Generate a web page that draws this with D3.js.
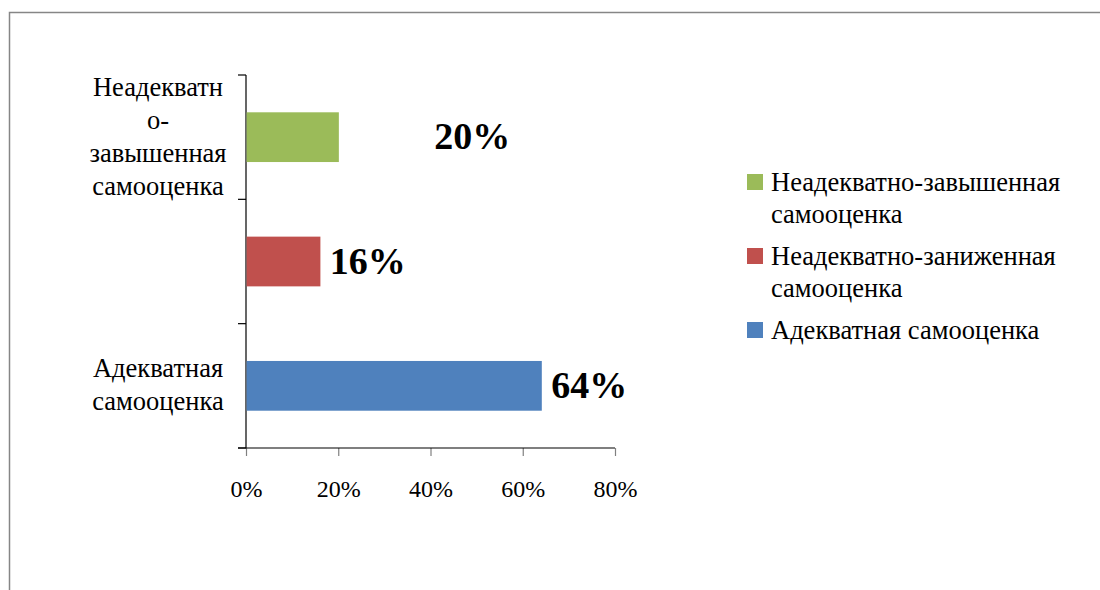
<!DOCTYPE html>
<head>
  <meta charset="utf-8">
  <script src="https://d3js.org/d3.v7.min.js"></script>
  <style>
    body { margin: 0; background: #fff; }
    text { font-family: 'Liberation Serif', 'Times New Roman', serif; fill: #000; }
    .tick-label { font-size: 24px; }
    .cat, .legend text { font-size: 26.5px; }
    .value { font-size: 38px; font-weight: bold; }
  </style>
</head>
<body>
  <svg id="chart" width="1100" height="590"></svg>
  <script>
    // top to bottom, as drawn
    var categories = ['Неадекватно-завышенная самооценка', 'Неадекватно-заниженная самооценка', 'Адекватная самооценка'];
    var categoryLines = [['Неадекватн', 'о-', 'завышенная', 'самооценка'], [], ['Адекватная', 'самооценка']];
    var values = [20, 16, 64];
    var colors = ['#9BBB59', '#C0504D', '#4F81BD'];
    var legendLines = [['Неадекватно-завышенная', 'самооценка'], ['Неадекватно-заниженная', 'самооценка'], ['Адекватная самооценка']];
    var xTicks = [0, 20, 40, 60, 80];

    var chart = d3.select('#chart');

    chart.append('rect')
      .attr('x', 9.5).attr('y', 12.5)
      .attr('width', 1200).attr('height', 700)
      .attr('fill', 'none')
      .attr('stroke', '#868686')
      .attr('stroke-width', 1.5);

    var plotLeft = 246, plotRight = 615, plotTop = 75, plotBottom = 448;

    var x = d3.scaleLinear().domain([0, 80]).range([plotLeft, plotRight]);
    var y = d3.scaleBand().domain(categories).range([plotTop, plotBottom])
      .paddingInner(0.6).paddingOuter(0.3);

    var g = chart.append('g');

    // x axis
    var xAxis = g.append('g')
      .attr('transform', 'translate(0,' + plotBottom + ')')
      .call(d3.axisBottom(x).tickValues(xTicks).tickSize(8).tickFormat((d) => d + '%'));
    xAxis.select('.domain').remove();
    xAxis.selectAll('.tick line').attr('stroke', '#808080').attr('stroke-width', 1.2);
    xAxis.selectAll('.tick text')
      .attr('class', 'tick-label')
      .attr('y', 0).attr('dy', 49);
    xAxis.attr('font-size', null).attr('font-family', null);
    g.append('line')
      .attr('x1', plotLeft - 8).attr('x2', plotRight)
      .attr('y1', plotBottom).attr('y2', plotBottom)
      .attr('stroke', '#000').attr('stroke-width', 1.2);

    // y axis, ticks at category boundaries
    var bounds = d3.range(categories.length + 1).map((i) => plotTop + i * y.step());
    g.append('line')
      .attr('x1', plotLeft).attr('x2', plotLeft)
      .attr('y1', plotTop).attr('y2', plotBottom)
      .attr('stroke', '#000').attr('stroke-width', 1.2);
    g.selectAll('.ytick').data(bounds).enter().append('line')
      .attr('class', 'ytick')
      .attr('x1', plotLeft - 8).attr('x2', plotLeft)
      .attr('y1', (d) => d).attr('y2', (d) => d)
      .attr('stroke', '#000').attr('stroke-width', 1.2);

    // bars
    g.selectAll('.bar').data(categories).enter().append('rect')
      .attr('class', 'bar')
      .attr('x', x(0) + 0.6)
      .attr('y', (d) => y(d))
      .attr('width', (d, i) => x(values[i]) - x(0))
      .attr('height', y.bandwidth())
      .attr('fill', (d, i) => colors[i]);

    // value labels (the top one was dragged right in the original)
    var labelShift = [96, 10, 10];
    g.selectAll('.value').data(categories).enter().append('text')
      .attr('class', 'value')
      .attr('x', (d, i) => x(values[i]) + labelShift[i])
      .attr('y', (d) => y(d) + y.bandwidth() / 2 + 12)
      .text((d, i) => values[i] + '%');

    // category labels
    var lh = 33;
    categories.forEach((c, i) => {
      var lines = categoryLines[i];
      var cy = y(c) + y.bandwidth() / 2;
      var t = g.append('text').attr('class', 'cat').attr('text-anchor', 'middle');
      lines.forEach((s, j) => {
        t.append('tspan')
          .attr('x', 158)
          .attr('y', cy + (j - (lines.length - 1) / 2) * lh + 8)
          .text(s);
      });
    });

    // legend
    var legend = chart.append('g').attr('class', 'legend');
    var ly = 174;
    categories.forEach((c, i) => {
      legend.append('rect')
        .attr('x', 747).attr('y', ly)
        .attr('width', 16).attr('height', 16)
        .attr('fill', colors[i]);
      var t = legend.append('text');
      legendLines[i].forEach((s, j) => {
        t.append('tspan')
          .attr('x', 771)
          .attr('y', ly + 17 + j * 32)
          .text(s);
      });
      ly += legendLines[i].length * 32 + 10;
    });
  </script>
</body>
</html>
